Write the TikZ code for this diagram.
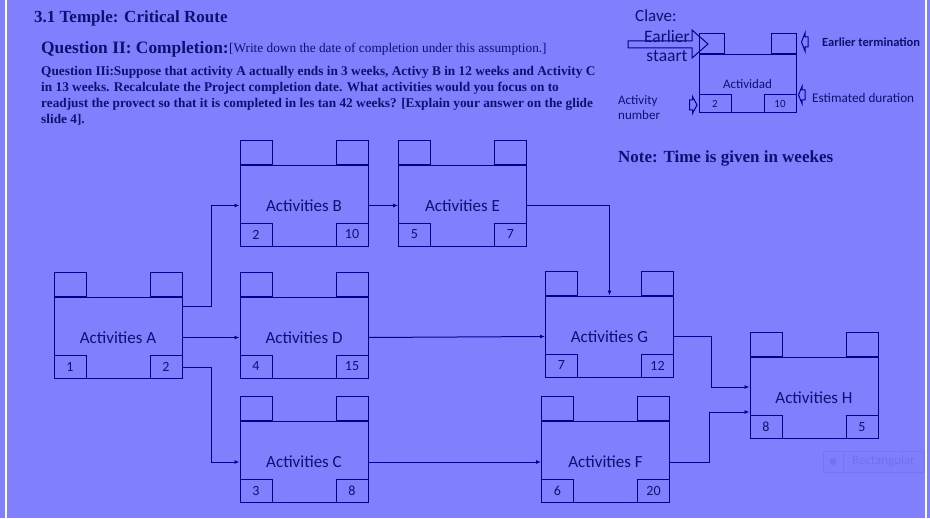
\documentclass[tikz,border=0pt]{standalone}
\usepackage{fontspec}
\setmainfont{Liberation Serif}
\newfontfamily\calfont{Carlito}
\usetikzlibrary{arrows.meta,calc}
\definecolor{bgblue}{RGB}{128,128,255}
\definecolor{lineblue}{RGB}{0,0,140}
\definecolor{txtblue}{RGB}{16,16,112}
\definecolor{ghostblue}{RGB}{112,112,240}
\tikzset{
  actbox/.style={draw=lineblue, line width=1pt, minimum width=128pt, minimum height=81pt, inner sep=0pt,
    text=txtblue, font=\calfont\fontsize{17}{20}\selectfont},
  topcell/.style={draw=lineblue, line width=1pt, minimum width=32pt, minimum height=24pt, inner sep=0pt},
  botcell/.style={draw=lineblue, line width=1pt, minimum width=32pt, minimum height=23pt, inner sep=0pt,
    text=txtblue, font=\calfont\fontsize{14}{16}\selectfont},
  keycell/.style={draw=lineblue, line width=1pt, inner sep=0pt, text=txtblue, font=\calfont\fontsize{11}{13}\selectfont},
  link/.style={draw=lineblue, line width=1pt, -{Latex[length=5pt,width=4pt]}},
  hollow/.style={draw=lineblue, line width=1pt},
  lbl/.style={anchor=west, inner sep=0pt, text=txtblue}
}
\begin{document}
\begin{tikzpicture}[x=1pt, y=-1pt]
\fill[bgblue] (0,0) rectangle (930,519);
\useasboundingbox (0,0) rectangle (930,519);
\fill[white] (5,0) rectangle (6.5,519);
\fill[white] (925,0) rectangle (926.5,519);
\fill[white] (0,517.5) rectangle (930,519);

\node[lbl, font=\bfseries\fontsize{17}{20}\selectfont] (title) at (34,18.5) {3.1 Temple: Critical Route};
\node[lbl, font=\bfseries\fontsize{17.4}{21}\selectfont] (q2) at (41,49.5) {Question II: Completion:};
\node[lbl, font=\fontsize{13.3}{15}\selectfont] (q2note) at (q2.east) {[Write down the date of completion under this assumption.]};
\node[lbl, anchor=north west, align=left, font=\bfseries\fontsize{13.3}{16}\selectfont] (q3) at (41,66.5)
  {Question IIi:Suppose that activity A actually ends in 3 weeks, Activy B in 12 weeks and Activity C\\
   in 13 weeks. Recalculate the Project completion date. What activities would you focus on to\\
   readjust the provect so that it is completed in les tan 42 weeks? [Explain your answer on the glide\\
   slide 4].};

\foreach \n/\x/\y/\num/\dur in {A/118/337.5/1/2, B/304/205.5/2/10, E/462.5/205.5/5/7, D/304/337.5/4/15,
    C/304/462/3/8, G/609.5/336.5/7/12, F/605.5/462/6/20, H/814/398/8/5}{
  \node[actbox] (\n) at (\x,\y) {Activities \n};
  \node[topcell, anchor=south west] (\n tl) at (\n.north west) {};
  \node[topcell, anchor=south east] (\n tr) at (\n.north east) {};
  \node[botcell, anchor=south west] (\n bl) at (\n.south west) {\num};
  \node[botcell, anchor=south east] (\n br) at (\n.south east) {\dur};
}

\coordinate (ab) at ($(A.east)!.5!(B.west)$);
\coordinate (gh) at ($(G.east)!.5!(H.west)$);
\coordinate (fh) at ($(F.east)!.5!(H.west)$);
\coordinate (aout) at ([yshift=-10pt]A.north east);
\coordinate (cout) at ([yshift=11.5pt]A.south east);
\draw[link] (aout) -- (aout -| ab) |- (B.west);
\draw[link] (A.east) -- (D.west);
\draw[link] (cout) -- (cout -| ab) |- (C.west);
\draw[link] (B.east) -- (E.west);
\draw[link] (E.east) -| (G.north);
\draw[link] (D.east) -- (G.west);
\draw[link] (C.east) -- (F.west);
\draw[link] (G.east) -| (gh) |- ([yshift=11pt]H.west);
\draw[link] (F.east) -| (fh) |- ([yshift=-14pt]H.west);

\node[lbl, font=\calfont\fontsize{17}{20}\selectfont] (clave) at (635,15.5) {Clave:};
\node[keycell, minimum width=97pt, minimum height=58pt, font=\calfont\fontsize{13}{15}\selectfont] (key) at (747.5,84) {Actividad};
\node[keycell, anchor=south west, minimum width=25pt, minimum height=20pt] (keytl) at (key.north west) {};
\node[keycell, anchor=south east, minimum width=25pt, minimum height=20pt] (keytr) at (key.north east) {};
\node[keycell, anchor=south west, minimum width=32pt, minimum height=18pt] (keybl) at (key.south west) {2};
\node[keycell, anchor=south east, minimum width=32pt, minimum height=18pt] (keybr) at (key.south east) {10};
\draw[hollow] (628,41) -- (692,41) -- (692,30) -- (708,44) -- (692,58) -- (692,48) -- (628,48) -- cycle;
\node[text=txtblue, inner sep=0pt, font=\calfont\fontsize{17.5}{20}\selectfont] (early) at (667,36) {Earlier};
\node[text=txtblue, inner sep=0pt, font=\calfont\fontsize{17.5}{20}\selectfont] (staart) at (667,56) {staart};
\draw[hollow] (689.5,100) -- (692.5,100) -- (692.5,96.5) -- (697,105) -- (692.5,113.5) -- (692.5,110) -- (689.5,110) -- cycle;
\draw[hollow] (808,37) -- (805,37) -- (805,33) -- (801.5,42) -- (805,51) -- (805,47) -- (808,47) -- cycle;
\draw[hollow] (805,90) -- (802,90) -- (802,86.5) -- (798.5,95) -- (802,103.5) -- (802,100) -- (805,100) -- cycle;
\node[lbl, font=\calfont\bfseries\fontsize{12.5}{14}\selectfont] (eterm) at (822,42) {Earlier termination};
\node[lbl, font=\calfont\fontsize{13.2}{15}\selectfont] (edur) at (812,98) {Estimated duration};
\node[lbl, anchor=north west, align=left, font=\calfont\fontsize{13}{15}\selectfont] (anum) at (618,95) {Activity\\number};
\node[lbl, font=\bfseries\fontsize{17}{20}\selectfont] (note) at (618,158) {Note: Time is given in weekes};

\fill[fill=bgblue!92!ghostblue, draw=ghostblue!60!bgblue] (823,451) rectangle (924.5,472);
\draw[ghostblue!60!bgblue] (843,451) -- (843,472);
\fill[ghostblue!85!bgblue] (833,461.5) circle (3.5);
\node[lbl, text=ghostblue, font=\calfont\fontsize{13}{15}\selectfont] (ghost) at (852,461.5) {Rectangular};
\end{tikzpicture}
\end{document}
